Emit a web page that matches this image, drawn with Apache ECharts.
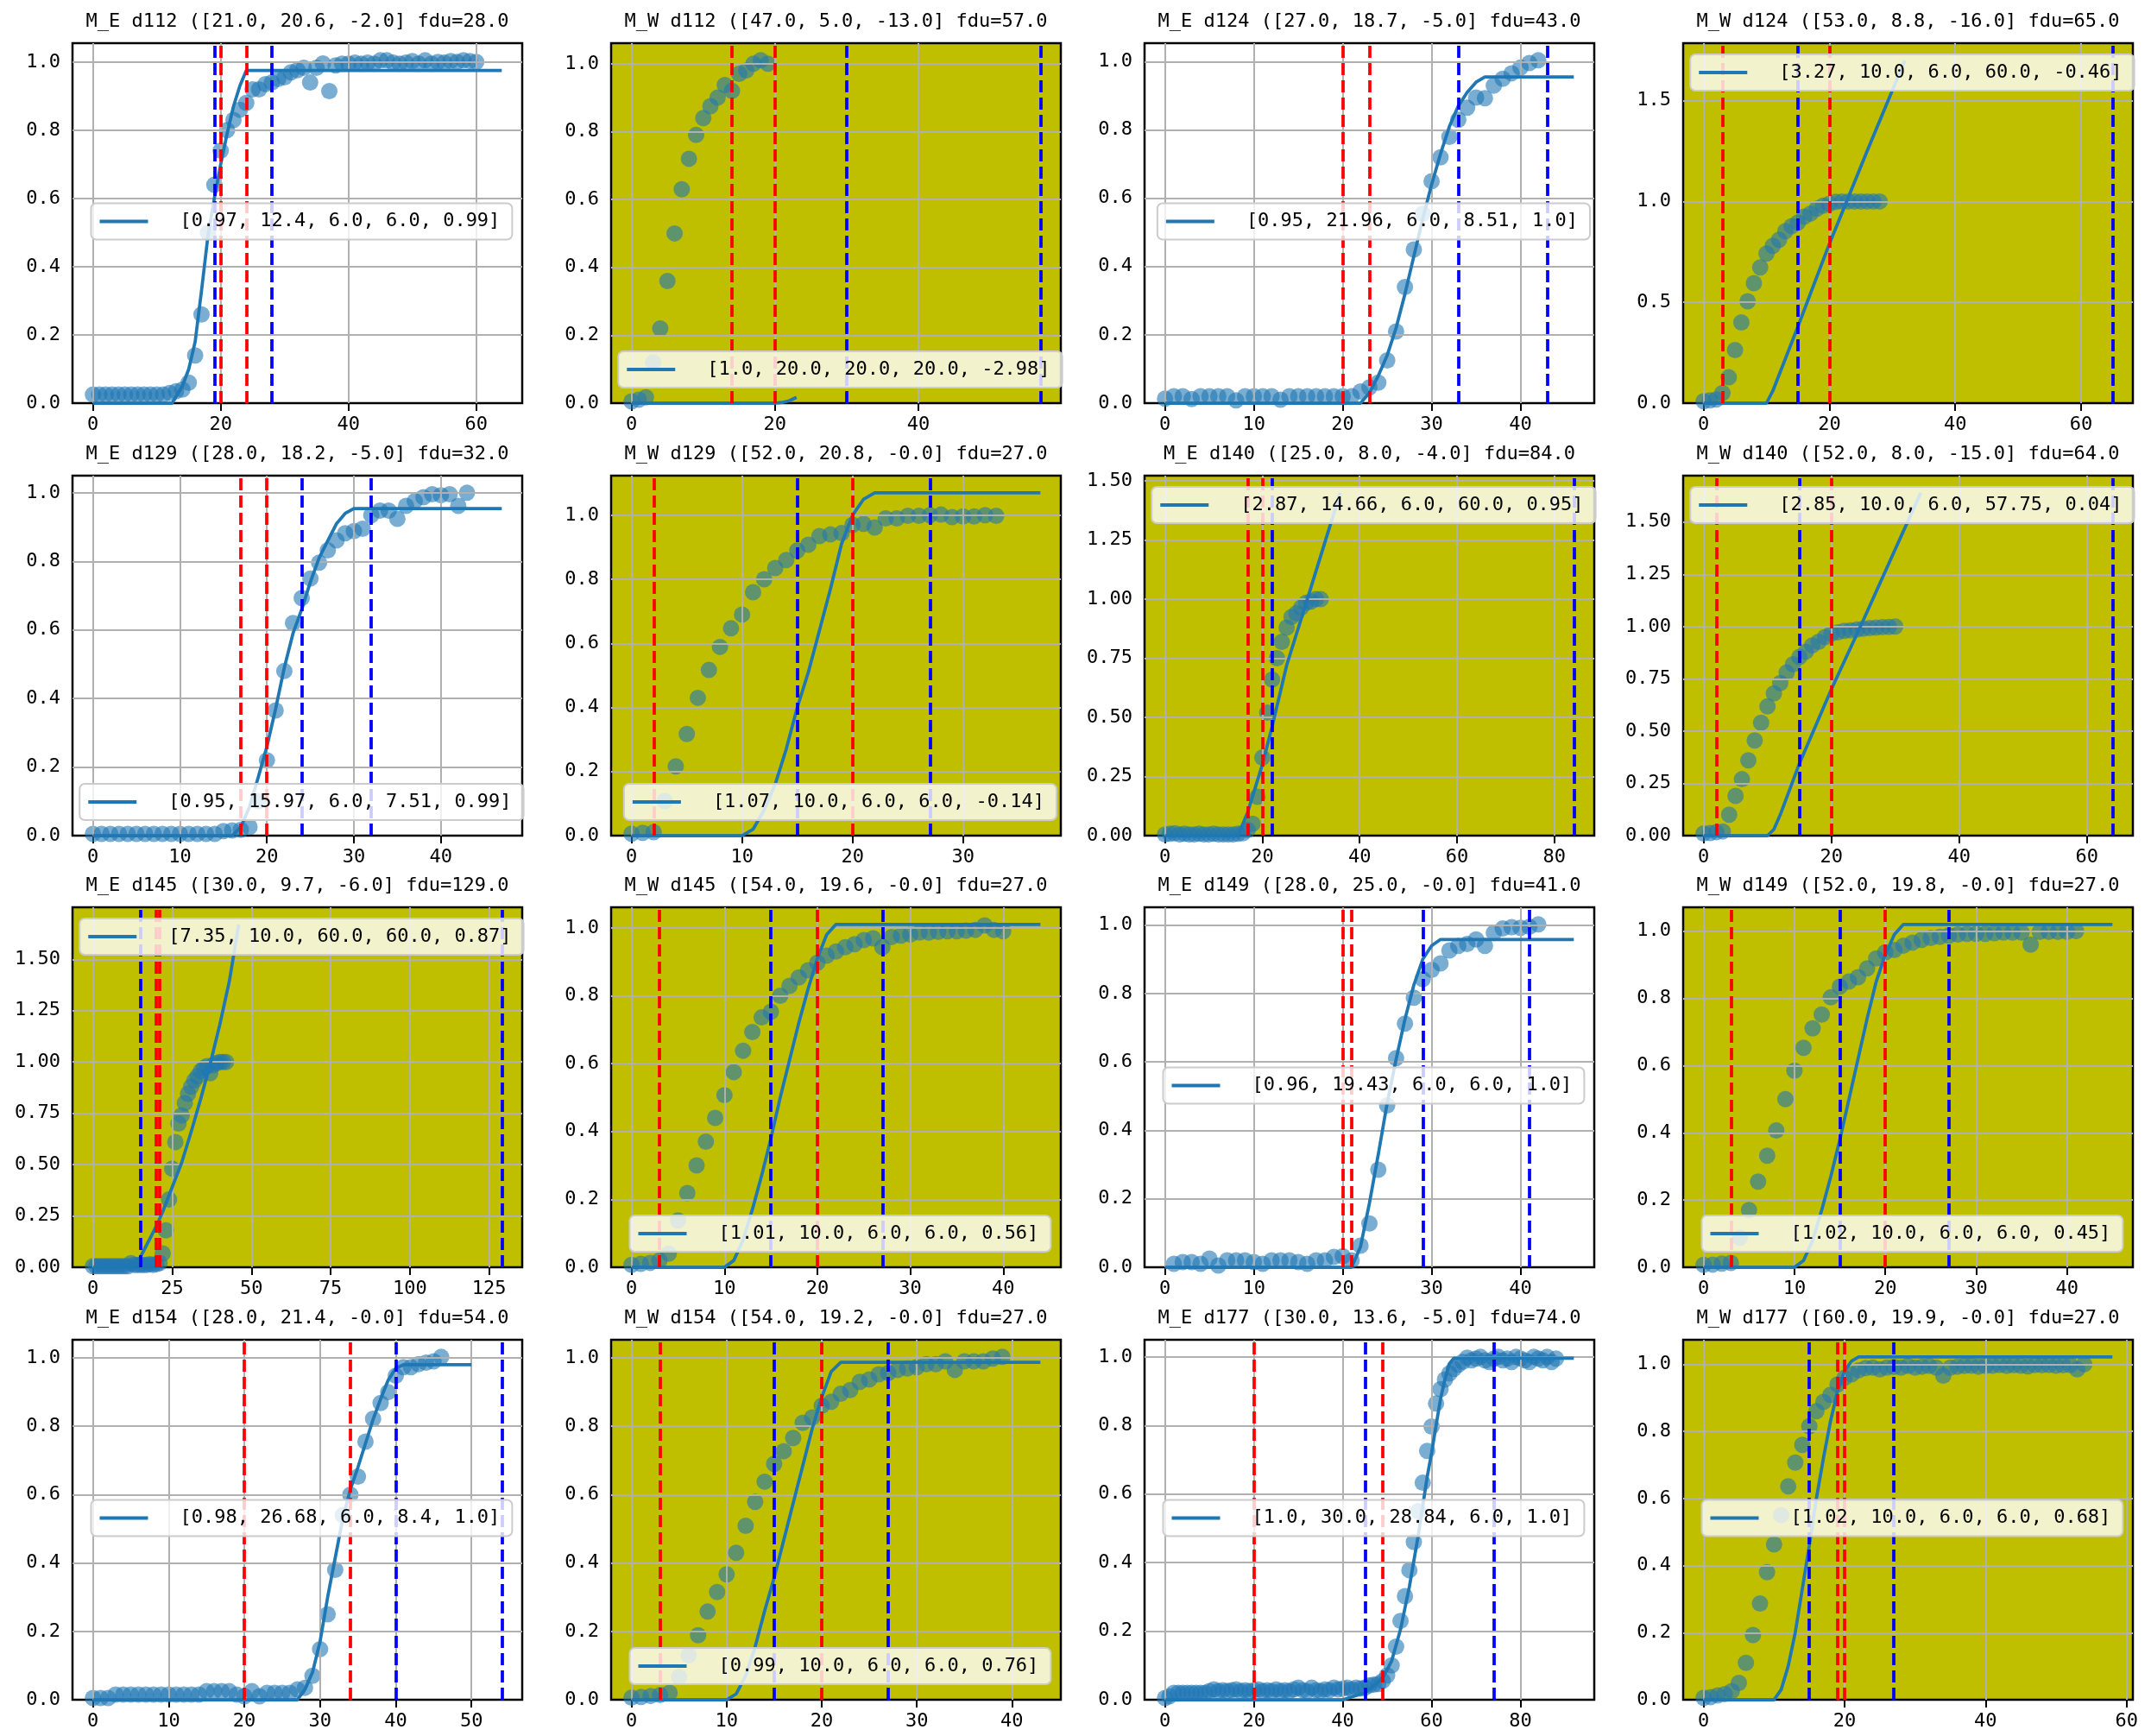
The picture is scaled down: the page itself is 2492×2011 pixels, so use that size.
<!DOCTYPE html>
<html>
<head>
<meta charset="utf-8">
<script src="https://cdn.jsdelivr.net/npm/echarts@6/dist/echarts.min.js"></script>
<style>
html,body{margin:0;padding:0;background:#ffffff;}
#chart{width:2492px;height:2011px;}
</style>
</head>
<body>
<div id="chart"></div>
<script>
// ---------------- DATA ----------------
const titles = [
  "M_E d112 ([21.0, 20.6, -2.0] fdu=28.0",
  "M_W d112 ([47.0, 5.0, -13.0] fdu=57.0",
  "M_E d124 ([27.0, 18.7, -5.0] fdu=43.0",
  "M_W d124 ([53.0, 8.8, -16.0] fdu=65.0",
  "M_E d129 ([28.0, 18.2, -5.0] fdu=32.0",
  "M_W d129 ([52.0, 20.8, -0.0] fdu=27.0",
  "M_E d140 ([25.0, 8.0, -4.0] fdu=84.0",
  "M_W d140 ([52.0, 8.0, -15.0] fdu=64.0",
  "M_E d145 ([30.0, 9.7, -6.0] fdu=129.0",
  "M_W d145 ([54.0, 19.6, -0.0] fdu=27.0",
  "M_E d149 ([28.0, 25.0, -0.0] fdu=41.0",
  "M_W d149 ([52.0, 19.8, -0.0] fdu=27.0",
  "M_E d154 ([28.0, 21.4, -0.0] fdu=54.0",
  "M_W d154 ([54.0, 19.2, -0.0] fdu=27.0",
  "M_E d177 ([30.0, 13.6, -5.0] fdu=74.0",
  "M_W d177 ([60.0, 19.9, -0.0] fdu=27.0"
];
const legendLabels = [
  "[0.97, 12.4, 6.0, 6.0, 0.99]",
  "[1.0, 20.0, 20.0, 20.0, -2.98]",
  "[0.95, 21.96, 6.0, 8.51, 1.0]",
  "[3.27, 10.0, 6.0, 60.0, -0.46]",
  "[0.95, 15.97, 6.0, 7.51, 0.99]",
  "[1.07, 10.0, 6.0, 6.0, -0.14]",
  "[2.87, 14.66, 6.0, 60.0, 0.95]",
  "[2.85, 10.0, 6.0, 57.75, 0.04]",
  "[7.35, 10.0, 60.0, 60.0, 0.87]",
  "[1.01, 10.0, 6.0, 6.0, 0.56]",
  "[0.96, 19.43, 6.0, 6.0, 1.0]",
  "[1.02, 10.0, 6.0, 6.0, 0.45]",
  "[0.98, 26.68, 6.0, 8.4, 1.0]",
  "[0.99, 10.0, 6.0, 6.0, 0.76]",
  "[1.0, 30.0, 28.84, 6.0, 1.0]",
  "[1.02, 10.0, 6.0, 6.0, 0.68]"
];

// scatter values, index = x (0,1,2,...)
const y_ME_d112 = [0.025,0.025,0.025,0.025,0.025,0.025,0.025,0.025,0.025,0.025,0.025,0.025,0.03,0.035,0.04,0.06,0.14,0.26,0.50,0.64,0.74,0.80,0.83,0.86,0.88,0.92,0.92,0.935,0.94,0.95,0.955,0.97,0.976,0.983,0.94,0.983,0.996,0.915,0.99,0.995,0.995,0.998,0.995,0.998,0.995,1.005,1.005,0.998,0.995,0.998,1.003,0.995,1.005,0.995,1.0,0.998,1.003,1.0,1.005,1.003,1.0];
const y_MW_d112 = [0.005,0.01,0.017,0.12,0.22,0.36,0.50,0.63,0.72,0.79,0.84,0.875,0.90,0.937,0.92,0.97,0.98,1.0,1.01,1.0];
const y_ME_d124 = [0.013,0.02,0.02,0.012,0.02,0.02,0.02,0.02,0.008,0.02,0.02,0.02,0.02,0.01,0.02,0.02,0.02,0.02,0.02,0.02,0.02,0.02,0.034,0.046,0.06,0.125,0.21,0.34,0.45,0.555,0.65,0.72,0.78,0.83,0.865,0.895,0.893,0.93,0.95,0.966,0.983,0.996,1.004];
const y_MW_d124 = [0.01,0.014,0.018,0.05,0.128,0.263,0.40,0.505,0.595,0.673,0.742,0.78,0.81,0.853,0.878,0.896,0.925,0.94,0.964,0.979,0.989,0.998,1.0,1.0,1.0,1.0,1.0,1.0,1.0];
const y_ME_d129 = [0.005,0.005,0.005,0.005,0.005,0.005,0.005,0.005,0.005,0.005,0.005,0.005,0.005,0.005,0.005,0.013,0.015,0.017,0.025,0.1,0.22,0.365,0.48,0.62,0.693,0.75,0.796,0.832,0.861,0.882,0.888,0.895,0.935,0.948,0.948,0.924,0.962,0.976,0.987,0.996,0.993,0.996,0.962,1.0];
const y_MW_d129 = [0.006,0.009,0.011,0.108,0.216,0.317,0.43,0.517,0.589,0.647,0.69,0.76,0.80,0.835,0.86,0.89,0.908,0.935,0.94,0.944,0.97,0.973,0.962,0.99,0.99,0.998,0.998,1.0,1.002,0.994,0.996,0.996,1.0,0.998];
const y_ME_d140 = [0.005,0.008,0.01,0.005,0.008,0.005,0.005,0.008,0.005,0.005,0.008,0.005,0.005,0.005,0.005,0.008,0.01,0.024,0.05,0.164,0.33,0.52,0.66,0.75,0.82,0.88,0.925,0.94,0.965,0.985,0.99,1.0,1.0];
const y_MW_d140 = [0.01,0.012,0.017,0.02,0.10,0.19,0.27,0.36,0.455,0.54,0.618,0.68,0.73,0.78,0.82,0.855,0.88,0.91,0.927,0.95,0.966,0.972,0.98,0.982,0.986,0.99,0.993,0.995,0.997,0.998,1.0];
const y_ME_d145 = [0.005,0.005,0.005,0.005,0.005,0.005,0.005,0.005,0.005,0.005,0.005,0.005,0.02,0.012,0.01,0.012,0.01,0.012,0.015,0.012,0.015,0.02,0.067,0.18,0.33,0.48,0.61,0.70,0.74,0.80,0.845,0.88,0.91,0.93,0.955,0.97,0.98,0.945,0.985,0.995,1.0,1.0,1.0];
const y_MW_d145 = [0.007,0.01,0.013,0.02,0.04,0.138,0.219,0.30,0.37,0.44,0.507,0.575,0.638,0.693,0.736,0.753,0.80,0.829,0.854,0.875,0.897,0.918,0.93,0.943,0.952,0.964,0.969,0.943,0.973,0.977,0.98,0.986,0.986,0.988,0.99,0.99,0.992,0.994,1.007,0.994,0.99];
const y_ME_d149 = [null,0.01,0.015,0.015,0.01,0.025,0.005,0.02,0.02,0.02,0.015,0.01,0.02,0.02,0.02,0.015,0.01,0.02,0.02,0.03,0.032,0.02,0.063,0.128,0.285,0.473,0.611,0.712,0.788,0.842,0.869,0.888,0.926,0.939,0.945,0.958,0.939,0.977,0.99,0.994,0.992,0.995,1.002];
const y_MW_d149 = [0.007,0.008,0.011,0.013,0.088,0.17,0.255,0.332,0.407,0.5,0.585,0.653,0.711,0.752,0.803,0.835,0.85,0.863,0.889,0.919,0.937,0.944,0.957,0.966,0.974,0.98,0.983,0.987,0.99,0.992,0.992,0.992,0.994,0.996,0.996,0.996,0.96,0.998,0.998,0.998,0.998,1.0];
const y_ME_d154 = [0.005,0.005,0.005,0.015,0.015,0.015,0.015,0.015,0.015,0.015,0.015,0.015,0.015,0.015,0.015,0.025,0.025,0.025,0.025,0.015,0.01,0.025,0.01,0.02,0.02,0.02,0.02,0.03,0.035,0.07,0.148,0.25,0.38,0.54,0.6,0.653,0.755,0.822,0.868,0.90,0.948,0.973,0.973,0.982,0.986,0.99,1.003];
const y_MW_d154 = [0.006,0.008,0.011,0.014,0.02,0.067,0.13,0.189,0.258,0.315,0.367,0.43,0.509,0.579,0.638,0.69,0.727,0.766,0.81,0.826,0.86,0.872,0.895,0.906,0.93,0.937,0.952,0.956,0.965,0.969,0.973,0.982,0.982,0.99,0.965,0.99,0.99,0.99,0.998,1.003];
const y_ME_d177 = [0.005,0.01,0.02,0.02,0.02,0.02,0.02,0.02,0.02,0.02,
  0.025,0.03,0.025,0.028,0.025,0.028,0.03,0.025,0.028,0.025,0.028,0.03,0.025,0.028,0.025,0.03,0.025,0.028,0.025,0.03,0.035,0.028,0.025,0.035,0.028,0.025,0.03,0.028,0.035,0.03,0.033,0.035,0.03,0.035,0.033,
  0.035,0.042,0.044,0.046,0.055,0.071,0.10,0.155,0.23,0.302,0.378,0.46,0.55,0.633,0.726,0.797,0.864,0.906,0.934,0.952,0.965,0.977,0.986,0.998,
  0.99,0.995,1.0,0.99,0.985,0.995,1.0,0.99,0.995,0.985,1.0,0.995,0.99,0.985,1.0,0.995,0.99,1.0,0.985,0.995];
const y_MW_d177 = [0.006,0.008,0.013,0.017,0.026,0.05,0.11,0.193,0.287,0.38,0.463,0.55,0.636,0.707,0.76,0.815,0.86,0.888,0.909,0.94,0.96,0.97,0.982,0.989,
  0.99,0.985,0.99,0.992,0.99,0.995,0.99,0.993,0.995,0.99,0.966,0.99,0.993,0.995,0.996,0.993,0.995,0.996,0.998,0.995,0.997,0.996,0.994,0.998,0.997,0.998,0.996,0.997,0.998,0.985,1.0];

// fitted curves [x, y]
const fit_ME_d112 = [[0,0],[12.4,0],[14,0.05],[15,0.1],[16,0.18],[17,0.33],[18,0.49],[19,0.6],[20,0.7],[21,0.79],[22,0.87],[23,0.93],[24,0.975],[64,0.975]];
const fit_MW_d112 = [[0,0],[20,0],[21,0.002],[22,0.007],[23,0.017]];
const fit_ME_d124 = [[0,0],[22,0],[23,0.03],[24,0.08],[25,0.14],[26,0.22],[27,0.32],[28,0.43],[29,0.54],[30,0.64],[31,0.73],[32,0.81],[33,0.87],[34,0.91],[35,0.94],[36,0.955],[46,0.955]];
const fit_MW_d124 = [[0,0],[10,0],[11,0.06],[15,0.38],[20,0.79],[26,1.25],[32,1.70]];
const fit_ME_d129 = [[0,0],[16,0],[17,0.025],[18,0.084],[19,0.17],[20,0.26],[21,0.37],[22,0.49],[23,0.59],[24,0.66],[25,0.74],[26,0.81],[27,0.86],[28,0.91],[29,0.94],[30,0.954],[47,0.954]];
const fit_MW_d129 = [[0,0],[10,0],[11,0.02],[12,0.08],[13,0.16],[14,0.27],[15,0.4],[16,0.51],[17,0.64],[18,0.77],[19,0.91],[20,1.0],[21,1.05],[22,1.07],[37,1.07]];
const fit_ME_d140 = [[0,0],[15,0],[17,0.1],[20,0.3],[22,0.46],[25,0.72],[30,1.05],[33,1.25],[36,1.45]];
const fit_MW_d140 = [[0,0],[10,0],[11,0.03],[12,0.1],[15,0.345],[20,0.7],[25,1.03],[30,1.37],[34,1.64]];
const fit_ME_d145 = [[0,0],[13,0.005],[15,0.05],[18,0.14],[20,0.2],[22,0.27],[25,0.39],[28,0.51],[31,0.66],[34,0.82],[37,0.99],[40,1.18],[43,1.39],[46,1.67]];
const fit_MW_d145 = [[0,0],[10,0],[11,0.02],[12,0.08],[13,0.17],[14,0.27],[15,0.38],[16,0.5],[17,0.61],[18,0.72],[19,0.82],[20,0.91],[21,0.98],[22,1.01],[44,1.01]];
const fit_ME_d149 = [[0,0],[21,0],[22,0.06],[23,0.187],[24,0.33],[25,0.48],[26,0.607],[27,0.725],[28,0.825],[29,0.9],[30,0.94],[31,0.958],[46,0.958]];
const fit_MW_d149 = [[0,0],[10,0],[11,0.02],[12,0.08],[13,0.17],[14,0.27],[15,0.38],[16,0.5],[17,0.62],[18,0.74],[19,0.85],[20,0.93],[21,0.99],[22,1.02],[45,1.02]];
const fit_ME_d154 = [[0,0],[27,0],[28,0.03],[29,0.08],[30,0.17],[31,0.3],[32,0.415],[33,0.53],[34,0.615],[35,0.68],[36,0.75],[37,0.82],[38,0.88],[39,0.935],[40,0.97],[41,0.98],[50,0.98]];
const fit_MW_d154 = [[0,0],[10,0],[11,0.017],[12,0.07],[13,0.155],[14,0.26],[15,0.357],[16,0.466],[17,0.575],[18,0.684],[19,0.793],[20,0.885],[21,0.96],[22,0.987],[43,0.987]];
const fit_ME_d177 = [[0,0],[40,0],[45,0.02],[49,0.063],[51,0.113],[53,0.205],[55,0.33],[57,0.48],[59,0.65],[60,0.72],[61,0.8],[62,0.877],[63,0.935],[64,0.98],[65,0.996],[92,0.996]];
const fit_MW_d177 = [[0,0],[10,0],[11,0.03],[12,0.1],[13,0.2],[14,0.33],[15,0.46],[16,0.6],[17,0.72],[18,0.83],[19,0.92],[20,0.98],[21,1.01],[22,1.022],[58,1.022]];

// vertical reference lines (x values)
const red_ME_d112 = [20,24],  blue_ME_d112 = [19,28];
const red_MW_d112 = [14,20],  blue_MW_d112 = [30,57];
const red_ME_d124 = [20,23],  blue_ME_d124 = [33,43];
const red_MW_d124 = [3,20],   blue_MW_d124 = [15,65];
const red_ME_d129 = [17,20],  blue_ME_d129 = [24,32];
const red_MW_d129 = [2,20],   blue_MW_d129 = [15,27];
const red_ME_d140 = [17,20],  blue_ME_d140 = [22,84];
const red_MW_d140 = [2,20],   blue_MW_d140 = [15,64];
const red_ME_d145 = [20,21],  blue_ME_d145 = [15,129];
const red_MW_d145 = [3,20],   blue_MW_d145 = [15,27];
const red_ME_d149 = [20,21],  blue_ME_d149 = [29,41];
const red_MW_d149 = [3,20],   blue_MW_d149 = [15,27];
const red_ME_d154 = [20,34],  blue_ME_d154 = [40,54];
const red_MW_d154 = [3,20],   blue_MW_d154 = [15,27];
const red_ME_d177 = [20,49],  blue_ME_d177 = [45,74];
const red_MW_d177 = [19,20],  blue_MW_d177 = [15,27];

// tick labels
const xt_ME_d112 = [0,20,40,60];
const xt_MW_d112 = [0,20,40];
const xt_ME_d124 = [0,10,20,30,40];
const xt_MW_d124 = [0,20,40,60];
const xt_ME_d129 = [0,10,20,30,40];
const xt_MW_d129 = [0,10,20,30];
const xt_ME_d140 = [0,20,40,60,80];
const xt_MW_d140 = [0,20,40,60];
const xt_ME_d145 = [0,25,50,75,100,125];
const xt_MW_d145 = [0,10,20,30,40];
const xt_ME_d149 = [0,10,20,30,40];
const xt_MW_d149 = [0,10,20,30,40];
const xt_ME_d154 = [0,10,20,30,40,50];
const xt_MW_d154 = [0,10,20,30,40];
const xt_ME_d177 = [0,20,40,60,80];
const xt_MW_d177 = [0,20,40,60];
const yt_unit = [0,0.2,0.4,0.6,0.8,1.0];
const yt_half = [0,0.5,1.0,1.5];
const yt_quarter = [0,0.25,0.5,0.75,1.0,1.25,1.5];

// ---------------- PANELS ----------------
const panels = [
  {ys:y_ME_d112, fit:fit_ME_d112, red:red_ME_d112, blue:blue_ME_d112, xt:xt_ME_d112, yt:yt_unit, dec:1, olive:false, leg:'center'},
  {ys:y_MW_d112, fit:fit_MW_d112, red:red_MW_d112, blue:blue_MW_d112, xt:xt_MW_d112, yt:yt_unit, dec:1, olive:true, leg:'lower'},
  {ys:y_ME_d124, fit:fit_ME_d124, red:red_ME_d124, blue:blue_ME_d124, xt:xt_ME_d124, yt:yt_unit, dec:1, olive:false, leg:'center'},
  {ys:y_MW_d124, fit:fit_MW_d124, red:red_MW_d124, blue:blue_MW_d124, xt:xt_MW_d124, yt:yt_half, dec:1, olive:true, leg:'upper'},
  {ys:y_ME_d129, fit:fit_ME_d129, red:red_ME_d129, blue:blue_ME_d129, xt:xt_ME_d129, yt:yt_unit, dec:1, olive:false, leg:'lower'},
  {ys:y_MW_d129, fit:fit_MW_d129, red:red_MW_d129, blue:blue_MW_d129, xt:xt_MW_d129, yt:yt_unit, dec:1, olive:true, leg:'lower'},
  {ys:y_ME_d140, fit:fit_ME_d140, red:red_ME_d140, blue:blue_ME_d140, xt:xt_ME_d140, yt:yt_quarter, dec:2, olive:true, leg:'upper'},
  {ys:y_MW_d140, fit:fit_MW_d140, red:red_MW_d140, blue:blue_MW_d140, xt:xt_MW_d140, yt:yt_quarter, dec:2, olive:true, leg:'upper'},
  {ys:y_ME_d145, fit:fit_ME_d145, red:red_ME_d145, blue:blue_ME_d145, xt:xt_ME_d145, yt:yt_quarter, dec:2, olive:true, leg:'upper'},
  {ys:y_MW_d145, fit:fit_MW_d145, red:red_MW_d145, blue:blue_MW_d145, xt:xt_MW_d145, yt:yt_unit, dec:1, olive:true, leg:'lower'},
  {ys:y_ME_d149, fit:fit_ME_d149, red:red_ME_d149, blue:blue_ME_d149, xt:xt_ME_d149, yt:yt_unit, dec:1, olive:false, leg:'center'},
  {ys:y_MW_d149, fit:fit_MW_d149, red:red_MW_d149, blue:blue_MW_d149, xt:xt_MW_d149, yt:yt_unit, dec:1, olive:true, leg:'lower'},
  {ys:y_ME_d154, fit:fit_ME_d154, red:red_ME_d154, blue:blue_ME_d154, xt:xt_ME_d154, yt:yt_unit, dec:1, olive:false, leg:'center'},
  {ys:y_MW_d154, fit:fit_MW_d154, red:red_MW_d154, blue:blue_MW_d154, xt:xt_MW_d154, yt:yt_unit, dec:1, olive:true, leg:'lower'},
  {ys:y_ME_d177, fit:fit_ME_d177, red:red_ME_d177, blue:blue_ME_d177, xt:xt_ME_d177, yt:yt_unit, dec:1, olive:false, leg:'center'},
  {ys:y_MW_d177, fit:fit_MW_d177, red:red_MW_d177, blue:blue_MW_d177, xt:xt_MW_d177, yt:yt_unit, dec:1, olive:true, leg:'center'}
];

// ---------------- LAYOUT / STYLE ----------------
const colLeft = [84, 708, 1326, 1950];
const rowTop = [50, 551, 1051, 1552];
const W = 521, H = 417;
const FONT = '"DejaVu Sans Mono", monospace';
const FS = 22;
const CHAR_W = 13.25;
const BLUE = '#1f77b4';
const OLIVE = '#bfbf00';

const grids = [], xAxes = [], yAxes = [], series = [], legends = [], texts = [];

panels.forEach((p, i) => {
  const r = Math.floor(i / 4), c = i % 4;
  const L = colLeft[c], T = rowTop[r];
  const sc = p.ys.map((y, x) => [x, y]).filter(d => d[1] !== null);
  const xs = sc.map(d => d[0]).concat(p.fit.map(d => d[0]), p.red, p.blue);
  const xMaxD = Math.max.apply(null, xs), xMinD = Math.min.apply(null, xs);
  const xpad = 0.05 * (xMaxD - xMinD);
  const yMaxD = Math.max.apply(null, sc.map(d => d[1]).concat(p.fit.map(d => d[1])));
  const ymax = yMaxD * 1.05;

  grids.push({
    left: L, top: T, width: W, height: H, show: true,
    backgroundColor: p.olive ? OLIVE : '#ffffff',
    borderColor: '#000000', borderWidth: 2.5,
    containLabel: false, outerBoundsMode: 'none'
  });
  xAxes.push({
    type: 'value', gridIndex: i, min: xMinD - xpad, max: xMaxD + xpad,
    axisLine: {show: false}, splitLine: {show: false},
    axisTick: {show: true, customValues: p.xt, length: 9, lineStyle: {color: '#000', width: 2}},
    axisLabel: {show: true, customValues: p.xt, margin: 14, color: '#000', fontSize: FS, fontFamily: FONT,
      formatter: v => String(Math.round(v))}
  });
  yAxes.push({
    type: 'value', gridIndex: i, min: 0, max: ymax,
    axisLine: {show: false}, splitLine: {show: false},
    axisTick: {show: true, customValues: p.yt, length: 9, lineStyle: {color: '#000', width: 2}},
    axisLabel: {show: true, customValues: p.yt, margin: 14, color: '#000', fontSize: FS, fontFamily: FONT,
      formatter: v => Number(v).toFixed(p.dec)}
  });

  const gridLines = p.xt.map(v => ({xAxis: v}))
    .concat(p.yt.filter(v => v > 0 && v < ymax).map(v => ({yAxis: v})));

  series.push({
    type: 'scatter', name: 'points' + i, xAxisIndex: i, yAxisIndex: i,
    data: sc, symbol: 'circle', symbolSize: 19, clip: true, silent: true, z: 2,
    itemStyle: {color: BLUE, opacity: 0.6},
    markLine: {
      silent: true, z: 3, symbol: ['none', 'none'], label: {show: false}, animation: false,
      lineStyle: {color: '#b0b0b0', width: 2, type: 'solid'},
      emphasis: {disabled: true},
      data: gridLines
    }
  });

  const vlines = p.red.map(v => ({xAxis: v, lineStyle: {color: '#ff0000', width: 3.75, type: [14, 6]}}))
    .concat(p.blue.map(v => ({xAxis: v, lineStyle: {color: '#0000ff', width: 3.75, type: [14, 6]}})));

  series.push({
    type: 'line', name: legendLabels[i], xAxisIndex: i, yAxisIndex: i,
    data: p.fit, symbol: 'none', showSymbol: false, clip: true, silent: true, z: 4,
    lineStyle: {color: BLUE, width: 3.75}, itemStyle: {color: BLUE},
    markLine: {
      silent: true, z: 5, symbol: ['none', 'none'], label: {show: false}, animation: false,
      emphasis: {disabled: true},
      data: vlines
    }
  });

  const lw = 10 + 56 + 5 + 32 + legendLabels[i].length * CHAR_W + 14;
  const lh = 46;
  const lt = p.leg === 'upper' ? T + 13 : (p.leg === 'lower' ? T + H - 14 - lh : T + H / 2 - lh / 2);
  legends.push({
    show: true, data: [{name: legendLabels[i], icon: 'rect'}],
    left: L + W / 2 - lw / 2 + 5, top: lt, orient: 'horizontal',
    itemWidth: 56, itemHeight: 4, itemGap: 0,
    padding: [10, 14, 10, 10],
    backgroundColor: 'rgba(255,255,255,0.8)', borderColor: '#cccccc', borderWidth: 2, borderRadius: 6,
    selectedMode: false, z: 10,
    textStyle: {fontSize: FS, fontFamily: FONT, color: '#000', padding: [0, 0, 0, 32]}
  });

  texts.push({
    type: 'text', x: L + W / 2, y: T - 25, z: 10,
    style: {text: titles[i], fill: '#000', font: FS + 'px ' + FONT,
      textAlign: 'center', textVerticalAlign: 'middle', align: 'center', verticalAlign: 'middle'}
  });
});

const chart = echarts.init(document.getElementById('chart'), null, {renderer: 'canvas', width: 2492, height: 2011});
chart.setOption({
  backgroundColor: '#ffffff',
  animation: false,
  textStyle: {fontFamily: FONT},
  grid: grids,
  xAxis: xAxes,
  yAxis: yAxes,
  legend: legends,
  series: series,
  graphic: {elements: texts}
});
</script>
</body>
</html>
